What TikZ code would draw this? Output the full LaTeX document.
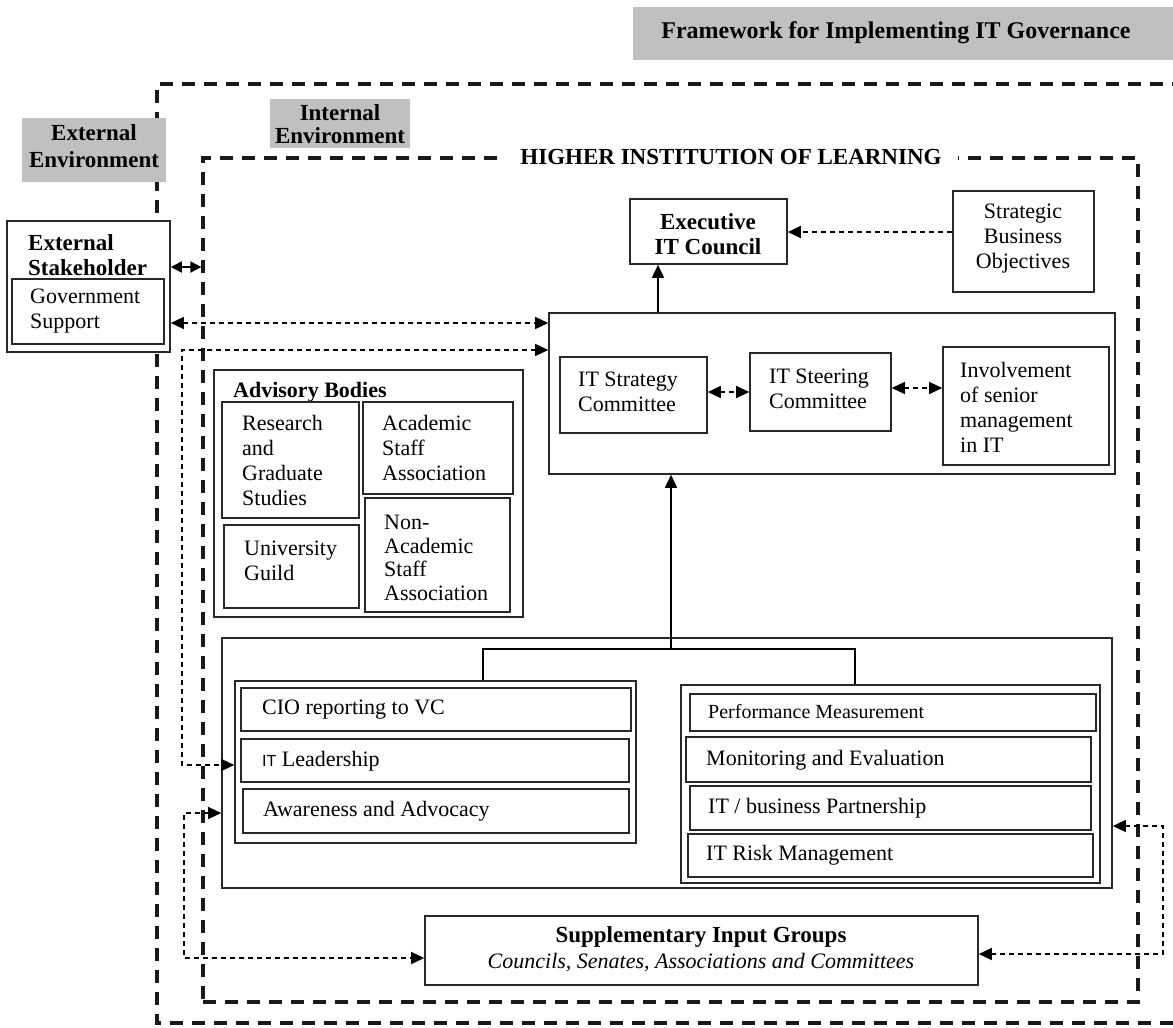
\documentclass[tikz,border=0pt]{standalone}
\usepackage{fontspec}
\setmainfont{Liberation Serif}
\newfontfamily\itsans{Liberation Sans}
\usetikzlibrary{arrows.meta,fit}
\definecolor{grayfill}{RGB}{192,192,192}
\definecolor{boxline}{RGB}{40,40,40}
\begin{document}
\begin{tikzpicture}[x=1pt,y=-1pt,
  >={Triangle[length=13pt,width=12pt]},
  box/.style={draw=boxline, line width=1.6pt, fill=white, inner sep=0pt},
  gbox/.style={fill=grayfill, draw=none, inner sep=0pt},
  bigdash/.style={line width=3.4pt, dash pattern=on 13pt off 9pt, draw=black!90},
  txt/.style={font=\fontsize{22}{25}\selectfont, align=left, anchor=west, inner sep=0pt},
  btxt/.style={font=\bfseries\fontsize{23}{25}\selectfont, align=center, inner sep=0pt},
  ctxt/.style={font=\fontsize{22}{25}\selectfont, align=center, inner sep=0pt},
  dconn/.style={line width=1.4pt, dash pattern=on 5pt off 4pt},
  sconn/.style={line width=1.6pt},
]
\useasboundingbox (0,0) rectangle (1173,1028);

% environments
\draw[bigdash] (1185,84) -- (157,84) -- (157,1023) -- (1185,1023);
\node[bigdash, line width=3.2pt, inner sep=0pt, fit={(203,158)(1138,1002)}] (hil) {};
\node[btxt, fill=white, inner xsep=16pt, inner ysep=3pt] (hiltitle) at (731,157) {HIGHER INSTITUTION OF LEARNING};

\node[gbox, fit={(633,7)(1185,60)}] (titlebox) {};
\node[btxt, font=\bfseries\fontsize{24}{26}\selectfont] (title) at (896,33) {Framework for Implementing IT Governance};
\node[gbox, fit={(22,118)(166,182)}] (extenv) {};
\node[btxt, font=\bfseries\fontsize{23}{27}\selectfont] (extenvtxt) at (94,146) {External\\Environment};
\node[gbox, fit={(270,99)(410,148)}] (intenv) {};
\node[btxt, font=\bfseries\fontsize{23}{23}\selectfont] (intenvtxt) at (340,124) {Internal\\Environment};

% external stakeholder
\node[box, fit={(7,221)(170,352)}] (es) {};
\node[txt, font=\bfseries\fontsize{23}{25}\selectfont] (estxt) at (28,255) {External\\Stakeholder};
\node[box, fit={(12,279)(164,344)}] (gov) {};
\node[txt] (govtxt) at (30,311) {Government\\Support};

% top part
\node[box, fit={(630,199)(787,264)}] (exec) {};
\node[btxt] (exectxt) at (708,234) {Executive\\IT Council};
\node[box, fit={(953,191)(1094,292)}] (sbo) {};
\node[ctxt] (sbotxt) at (1023,239) {Strategic\\Business\\Objectives};

\node[box, fit={(549,313)(1115,474)}] (upper) {};
\node[box, fit={(560,357)(707,433)}] (strat) {};
\node[txt] (strattxt) at (578,392) {IT Strategy\\Committee};
\node[box, fit={(750,353)(891,431)}] (steer) {};
\node[txt] (steertxt) at (769,389) {IT Steering\\Committee};
\node[box, fit={(943,347)(1109,465)}] (inv) {};
\node[txt] (invtxt) at (960,407) {Involvement\\of senior\\management\\in IT};

% advisory bodies
\node[box, fit={(214,370)(523,617)}] (adv) {};
\node[txt, font=\bfseries\fontsize{22}{25}\selectfont] (advtxt) at (233,392) {Advisory Bodies};
\node[box, fit={(222,402)(359,518)}] (res) {};
\node[txt] (restxt) at (242,460) {Research\\and\\Graduate\\Studies};
\node[box, fit={(363,402)(513,494)}] (acad) {};
\node[txt] (acadtxt) at (382,448) {Academic\\Staff\\Association};
\node[box, fit={(224,525)(359,608)}] (guild) {};
\node[txt] (guildtxt) at (244,561) {University\\Guild};
\node[box, fit={(365,498)(510,612)}] (nonacad) {};
\node[txt, font=\fontsize{22}{23.5}\selectfont] (nonacadtxt) at (384,558) {Non-\\Academic\\Staff\\Association};

% lower part
\node[box, fit={(222,638)(1112,888)}] (lower) {};
\node[box, fit={(235,681)(636,843)}] (lg) {};
\node[box, fit={(241,688)(631,731)}] (cio) {};
\node[txt] (ciotxt) at (262,710) {CIO reporting to VC};
\node[box, fit={(241,739)(629,782)}] (itl) {};
\node[txt] (itltxt) at (262,761) {{\itsans\fontsize{16}{18}\selectfont IT} Leadership};
\node[box, fit={(243,789)(629,833)}] (awa) {};
\node[txt] (awatxt) at (263,811) {Awareness and Advocacy};

\node[box, fit={(681,685)(1100,883)}] (rg) {};
\node[box, fit={(690,694)(1096,731)}] (pm) {};
\node[txt, font=\fontsize{20}{24}\selectfont] (pmtxt) at (708,712) {Performance Measurement};
\node[box, fit={(686,737)(1091,782)}] (me) {};
\node[txt] (metxt) at (706,760) {Monitoring and Evaluation};
\node[box, fit={(690,786)(1091,830)}] (itb) {};
\node[txt] (itbtxt) at (708,808) {IT / business Partnership};
\node[box, fit={(688,834)(1093,877)}] (risk) {};
\node[txt] (risktxt) at (706,855) {IT Risk Management};

\node[box, fit={(425,916)(978,985)}] (sup) {};
\node[btxt] (suptxt) at (701,937) {Supplementary Input Groups};
\node[ctxt, font=\itshape\fontsize{22}{25}\selectfont] (supsub) at (701,963) {Councils, Senates, Associations and Committees};

% connectors
\coordinate (c267) at (0,267);
\draw[line width=1.8pt, {Triangle[length=11pt,width=11pt]}-{Triangle[length=11pt,width=11pt]}] (es.east |- c267) -- (hil.west |- c267);
\coordinate (c323) at (0,323);
\draw[dconn, <->] (es.east |- c323) -- (upper.west |- c323);
\coordinate (ka) at (182,350);
\coordinate (kb) at (182,765);
\draw[dconn, <->] (upper.west |- ka) -- (ka) -- (kb) -- (lg.west |- kb);
\coordinate (kc) at (184,813);
\coordinate (kd) at (184,958);
\draw[dconn, <->] (lower.west |- kc) -- (kc) -- (kd) -- (sup.west |- kd);
\coordinate (ke) at (1163,826);
\coordinate (kf) at (1163,954);
\draw[dconn, <->] (lower.east |- ke) -- (ke) -- (kf) -- (sup.east |- kf);
\coordinate (c232) at (0,232);
\draw[dconn, ->] (sbo.west |- c232) -- (exec.east |- c232);
\coordinate (c658) at (658,0);
\draw[sconn, ->] (upper.north -| c658) -- (exec.south -| c658);
\coordinate (c392) at (0,392);
\coordinate (c388) at (0,388);
\draw[dconn, <->] (strat.east |- c392) -- (steer.west |- c392);
\draw[dconn, <->] (steer.east |- c388) -- (inv.west |- c388);
\coordinate (bl) at (483,649);
\coordinate (br) at (855,649);
\coordinate (bm) at (671,649);
\draw[sconn] (lg.north -| bl) -- (bl) -- (br) -- (rg.north -| br);
\draw[sconn, ->] (bm) -- (upper.south -| bm);
\end{tikzpicture}
\end{document}
